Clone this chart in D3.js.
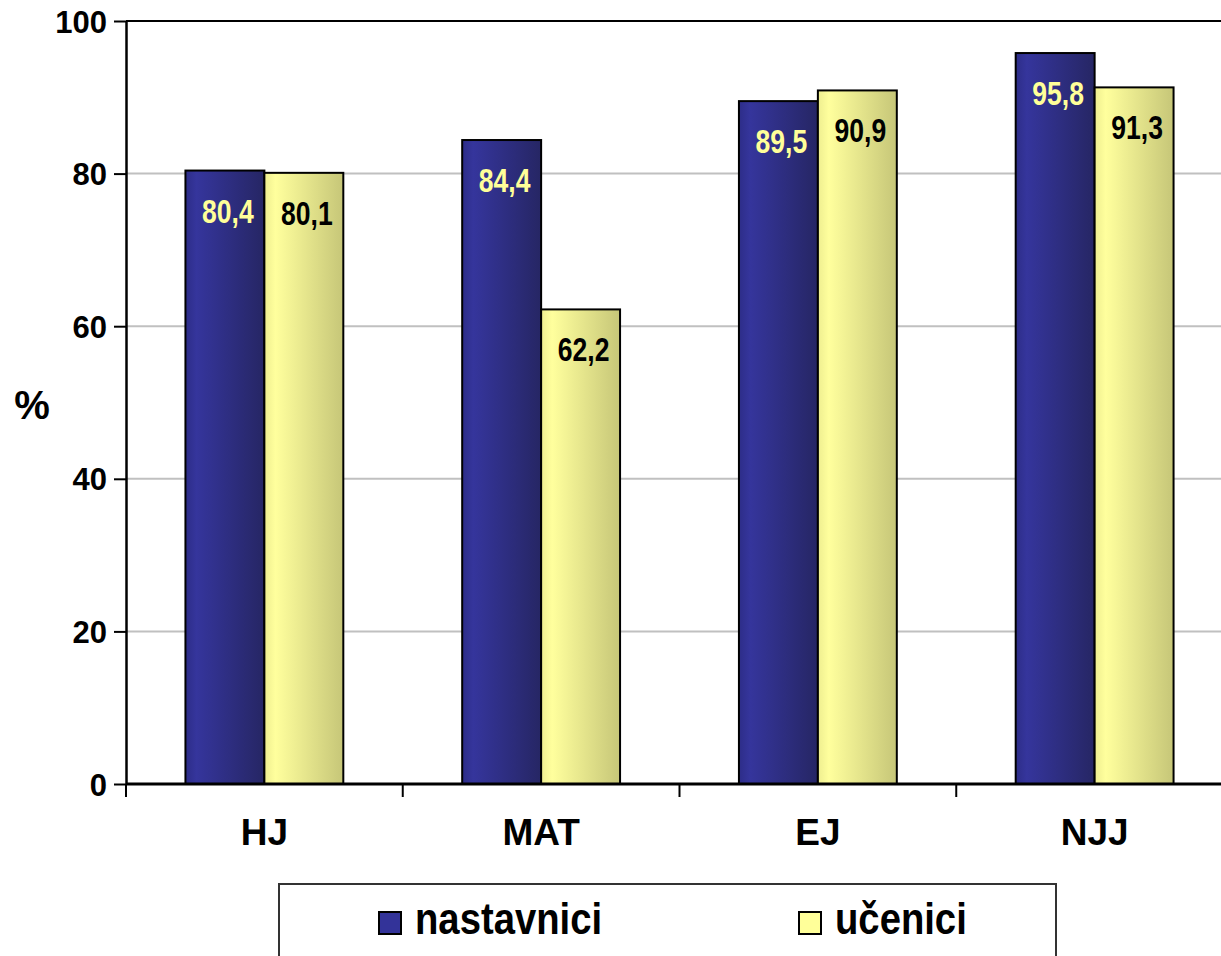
<!DOCTYPE html>
<html>
<head>
<meta charset="utf-8">
<script src="https://cdn.jsdelivr.net/npm/d3@7"></script>
<style>
  html, body { margin: 0; padding: 0; background: #fff; }
  svg { display: block; }
</style>
</head>
<body>
<script>
const categories = ["HJ", "MAT", "EJ", "NJJ"];
const seriesNames = ["nastavnici", "učenici"];
const nastavnici = [80.4, 84.4, 89.5, 95.8];
const ucenici = [80.1, 62.2, 90.9, 91.3];
const yTicks = [0, 20, 40, 60, 80, 100];
const valueLabels = [["80,4", "84,4", "89,5", "95,8"], ["80,1", "62,2", "90,9", "91,3"]];

(function () {
const W = 1221, H = 956;
const svg = d3.select("body").append("svg").attr("width", W).attr("height", H);

const defs = svg.append("defs");
const gb = defs.append("linearGradient").attr("id", "gBlue").attr("x1", "0").attr("x2", "1").attr("y1", "0").attr("y2", "0");
gb.append("stop").attr("offset", "0%").attr("stop-color", "#2d2d88");
gb.append("stop").attr("offset", "14%").attr("stop-color", "#35359c");
gb.append("stop").attr("offset", "100%").attr("stop-color", "#262664");
const gy = defs.append("linearGradient").attr("id", "gYellow").attr("x1", "0").attr("x2", "1").attr("y1", "0").attr("y2", "0");
gy.append("stop").attr("offset", "0%").attr("stop-color", "#eeee90");
gy.append("stop").attr("offset", "14%").attr("stop-color", "#ffff9d");
gy.append("stop").attr("offset", "100%").attr("stop-color", "#c6c678");

const pLeft = 126, pRight = 1233, pTop = 21, pBottom = 784;
const x = d3.scaleBand().domain(categories).range([pLeft, pRight]).padding(0);
const x1 = d3.scaleBand().domain(seriesNames).range([0, x.bandwidth()]).paddingInner(0).paddingOuter(0.753);
const y = d3.scaleLinear().domain([0, 100]).range([pBottom, pTop]);

const sans = "'Liberation Sans', Arial, Helvetica, sans-serif";

// gridlines
svg.append("g").selectAll("line").data(yTicks.filter(t => t > 0 && t < 100)).join("line")
  .attr("x1", pLeft).attr("x2", W).attr("y1", d => y(d)).attr("y2", d => y(d))
  .attr("stroke", "#c0c0c0").attr("stroke-width", 2);
// top border line
svg.append("line").attr("x1", pLeft).attr("x2", W).attr("y1", y(100)).attr("y2", y(100))
  .attr("stroke", "#000").attr("stroke-width", 2);

// bars
const data = categories.map((c, i) => ({ c, vals: [nastavnici[i], ucenici[i]] }));
const grads = ["url(#gBlue)", "url(#gYellow)"];
const labelColors = ["#ffff99", "#000"];
const groups = svg.append("g").selectAll("g").data(data).join("g")
  .attr("transform", d => `translate(${x(d.c)},0)`);
groups.selectAll("rect").data((d) => d.vals.map((v, j) => ({ v, j }))).join("rect")
  .attr("x", d => x1(seriesNames[d.j]))
  .attr("y", d => y(d.v))
  .attr("width", x1.bandwidth())
  .attr("height", d => pBottom - y(d.v))
  .attr("fill", d => grads[d.j])
  .attr("stroke", "#000").attr("stroke-width", 2);
groups.selectAll("text").data((d, i) => d.vals.map((v, j) => ({ v, j, i }))).join("text")
  .attr("transform", d => `translate(${x1(seriesNames[d.j]) + x1.bandwidth() / 2 + 3},${y(d.v) + 52}) scale(0.78,1)`)
  .attr("text-anchor", "middle")
  .attr("font-family", sans)
  .attr("font-weight", "bold")
  .attr("font-size", 34)
  .attr("fill", d => labelColors[d.j])
  .text(d => valueLabels[d.j][d.i]);

// y axis
const yAxis = svg.append("g").attr("transform", `translate(${pLeft},0)`)
  .call(d3.axisLeft(y).tickValues(yTicks).tickSize(12).tickSizeOuter(0).tickPadding(7).tickFormat(d3.format("d")));
yAxis.select(".domain").attr("stroke", "#000").attr("stroke-width", 2.5);
yAxis.selectAll(".tick line").attr("stroke", "#000").attr("stroke-width", 2);
yAxis.selectAll(".tick text").attr("font-family", sans)
  .attr("font-weight", "bold").attr("font-size", 31).attr("fill", "#000").attr("dy", "0.36em");

// x axis
const xAxis = svg.append("g").attr("transform", `translate(0,${pBottom})`)
  .call(d3.axisBottom(x).tickSize(0).tickPadding(45));
xAxis.select(".domain").remove();
svg.append("line").attr("x1", pLeft).attr("x2", W).attr("y1", pBottom).attr("y2", pBottom)
  .attr("stroke", "#000").attr("stroke-width", 3);
xAxis.selectAll(".tick text").attr("font-family", sans)
  .attr("font-weight", "bold").attr("font-size", 37).attr("fill", "#000").attr("dy", "0.42em");
// category separator ticks
svg.append("g").selectAll("line").data(categories).join("line")
  .attr("x1", d => x(d)).attr("x2", d => x(d))
  .attr("y1", pBottom).attr("y2", pBottom + 13)
  .attr("stroke", "#000").attr("stroke-width", 2);

// y label
svg.append("text").attr("x", 32).attr("y", 419).attr("text-anchor", "middle")
  .attr("font-family", sans).attr("font-weight", "bold")
  .attr("font-size", 40).text("%");

// legend
svg.append("rect").attr("x", 279).attr("y", 884).attr("width", 777).attr("height", 100)
  .attr("fill", "#fff").attr("stroke", "#333").attr("stroke-width", 2);
const legendX = [379, 799];
const legendFills = ["#333399", "#ffff99"];
const lg = svg.append("g").selectAll("g").data(seriesNames).join("g")
  .attr("transform", (d, i) => `translate(${legendX[i]},912)`);
lg.append("rect").attr("width", 22).attr("height", 22)
  .attr("fill", (d, i) => legendFills[i]).attr("stroke", "#000").attr("stroke-width", 2);
lg.append("text").attr("transform", "translate(36,22) scale(0.85,1)")
  .attr("font-family", sans)
  .attr("font-weight", "bold").attr("font-size", 45).attr("fill", "#000")
  .text(d => d);
})();
</script>
</body>
</html>
